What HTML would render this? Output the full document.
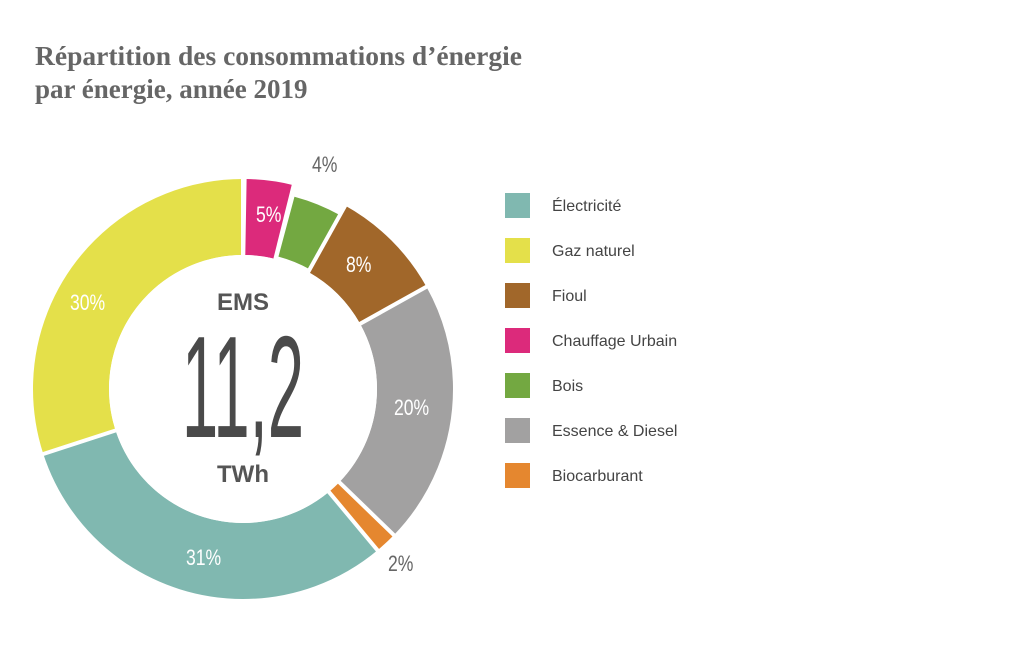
<!DOCTYPE html>
<html><head><meta charset="utf-8"><style>
html,body{margin:0;padding:0;background:#fff;}
body{width:1024px;height:648px;overflow:hidden;position:relative;font-family:"Liberation Sans",sans-serif;}
</style></head><body>
<svg width="1024" height="648" viewBox="0 0 1024 648" xmlns="http://www.w3.org/2000/svg">
<text x="35" y="65" font-family="Liberation Serif, serif" font-weight="bold" font-size="27" fill="#666" textLength="487" lengthAdjust="spacingAndGlyphs">Répartition des consommations d’énergie</text>
<text x="35" y="98" font-family="Liberation Serif, serif" font-weight="bold" font-size="27" fill="#666">par énergie, année 2019</text>
<g transform="translate(243,389) rotate(-90)" fill="none" stroke-width="76">
<circle r="172" pathLength="360" stroke="#e4e04a" stroke-dasharray="108 252" stroke-dashoffset="-252"/>
<circle r="172" pathLength="360" stroke="#80b8b0" stroke-dasharray="112 248" stroke-dashoffset="-140"/>
<circle r="172" pathLength="360" stroke="#e5872f" stroke-dasharray="6 354" stroke-dashoffset="-134"/>
<circle r="172" pathLength="360" stroke="#a2a1a1" stroke-dasharray="73 287" stroke-dashoffset="-61"/>
<circle r="172" pathLength="360" stroke="#a1672a" stroke-dasharray="32 328" stroke-dashoffset="-29"/>
<circle r="168" pathLength="360" stroke="#73a841" stroke-width="62" stroke-dasharray="14 346" stroke-dashoffset="-15"/>
<circle r="172" pathLength="360" stroke="#dc2a7b" stroke-dasharray="13 347" stroke-dashoffset="-1"/>
</g>
<circle cx="243" cy="389" r="134" fill="#fff"/>
<g stroke="#fff" stroke-width="4">
<line x1="243" y1="389" x2="243" y2="169"/>
<line x1="243" y1="389" x2="296" y2="176"/>
<line x1="243" y1="389" x2="350" y2="197"/>
<line x1="243" y1="389" x2="435" y2="282"/>
<line x1="243" y1="389" x2="401" y2="542"/>
<line x1="243" y1="389" x2="384" y2="558"/>
<line x1="243" y1="389" x2="34" y2="457"/>
</g>
<circle cx="243" cy="389" r="132" fill="#fff"/>
<g font-family="Liberation Sans, sans-serif" font-size="22" fill="#fff">
<text x="70" y="310" transform="translate(70,0) scale(0.8,1) translate(-70,0)">30%</text>
<text x="256" y="222" transform="translate(256,0) scale(0.8,1) translate(-256,0)">5%</text>
<text x="346" y="272" transform="translate(346,0) scale(0.8,1) translate(-346,0)">8%</text>
<text x="394" y="415" transform="translate(394,0) scale(0.8,1) translate(-394,0)">20%</text>
<text x="186" y="565" transform="translate(186,0) scale(0.8,1) translate(-186,0)">31%</text>
<text x="312" y="172" fill="#666" transform="translate(312,0) scale(0.8,1) translate(-312,0)">4%</text>
<text x="388" y="571" fill="#666" transform="translate(388,0) scale(0.8,1) translate(-388,0)">2%</text>
</g>
<text x="243" y="310" text-anchor="middle" font-weight="bold" font-size="24" fill="#555">EMS</text>
<text x="243" y="437" text-anchor="middle" font-family="Liberation Sans, sans-serif" font-size="145" fill="#4a4a4a" transform="translate(243,0) scale(0.45,1) translate(-243,0)">11,2</text>
<text x="243" y="482" text-anchor="middle" font-weight="bold" font-size="24" fill="#555">TWh</text>
<g font-size="16" fill="#444">
<rect x="505" y="193" width="25" height="25" fill="#80b8b0"/><text x="552" y="211">Électricité</text>
<rect x="505" y="238" width="25" height="25" fill="#e4e04a"/><text x="552" y="256">Gaz naturel</text>
<rect x="505" y="283" width="25" height="25" fill="#a1672a"/><text x="552" y="301">Fioul</text>
<rect x="505" y="328" width="25" height="25" fill="#dc2a7b"/><text x="552" y="346">Chauffage Urbain</text>
<rect x="505" y="373" width="25" height="25" fill="#73a841"/><text x="552" y="391">Bois</text>
<rect x="505" y="418" width="25" height="25" fill="#a2a1a1"/><text x="552" y="436">Essence &amp; Diesel</text>
<rect x="505" y="463" width="25" height="25" fill="#e5872f"/><text x="552" y="481">Biocarburant</text>
</g>
</svg>
</body></html>
